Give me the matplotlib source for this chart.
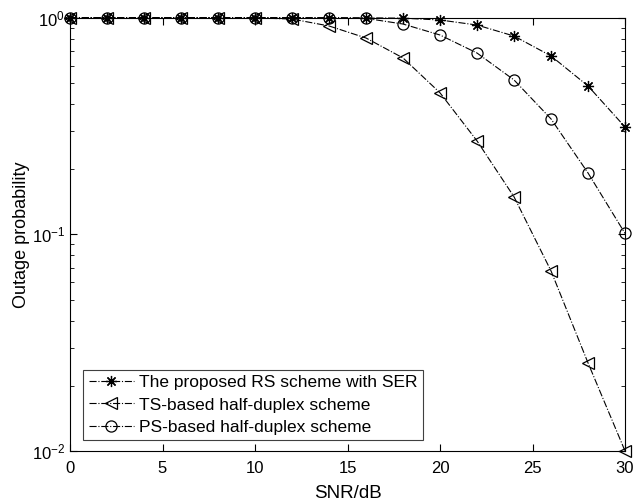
import matplotlib
matplotlib.use("Agg")
import matplotlib.pyplot as plt
from matplotlib.ticker import LogLocator, NullFormatter

plt.rcParams['font.family'] = ['Liberation Sans', 'DejaVu Sans']
plt.rcParams['mathtext.fontset'] = 'custom'
plt.rcParams['mathtext.rm'] = 'Liberation Sans'

snr = [0, 2, 4, 6, 8, 10, 12, 14, 16, 18, 20, 22, 24, 26, 28, 30]
rs_ser = [1.0, 1.0, 1.0, 1.0, 1.0, 1.0, 1.0, 1.0, 0.999, 0.995, 0.976, 0.925, 0.823, 0.666, 0.484, 0.313]
ts_hd = [1.0, 1.0, 1.0, 1.0, 1.0, 0.998, 0.986, 0.916, 0.806, 0.652, 0.450, 0.270, 0.149, 0.0678, 0.0255, 0.0100]
ps_hd = [1.0, 1.0, 1.0, 1.0, 1.0, 1.0, 1.0, 0.999, 0.993, 0.935, 0.832, 0.687, 0.516, 0.341, 0.192, 0.101]
labels = ["The proposed RS scheme with SER", "TS-based half-duplex scheme", "PS-based half-duplex scheme"]

fig = plt.figure(figsize=(6.33, 5.03), dpi=100)
ax = fig.add_axes([0.1106, 0.1034, 0.8768, 0.8614])

kw = dict(color='black', linestyle='-.', linewidth=0.8, markersize=8, markeredgewidth=0.9, clip_on=False)
ax.semilogy(snr, rs_ser, marker=(8, 2, 0), label=labels[0], **kw)
ax.semilogy(snr, ts_hd, marker='<', fillstyle='none', label=labels[1], **kw)
ax.semilogy(snr, ps_hd, marker='o', fillstyle='none', label=labels[2], **kw)

ax.set_xlim(0, 30)
ax.set_ylim(0.01, 1)
ax.set_xticks([0, 5, 10, 15, 20, 25, 30])
ax.yaxis.set_major_locator(LogLocator(base=10, numticks=10))
ax.yaxis.set_minor_locator(LogLocator(base=10, subs=range(2, 10), numticks=10))
ax.yaxis.set_minor_formatter(NullFormatter())
ax.tick_params(which='both', direction='in', top=True, right=True, labelsize=12)
ax.tick_params(axis='x', which='major', pad=7)
ax.tick_params(which='major', length=5)
ax.tick_params(which='minor', length=3)
for s in ax.spines.values():
    s.set_linewidth(0.8)

ax.set_xlabel("SNR/dB", fontsize=13.5, labelpad=7)
ax.set_ylabel("Outage probability", fontsize=13, labelpad=1)

leg = ax.legend(loc='lower left', bbox_to_anchor=(0.024, 0.025), fontsize=12.5,
                fancybox=False, edgecolor='#404040', framealpha=1,
                handlelength=2.6, handletextpad=0.3, borderpad=0.3, labelspacing=0.42,
                borderaxespad=0)
leg.get_frame().set_linewidth(0.8)

fig.savefig("out.png", dpi=100)
